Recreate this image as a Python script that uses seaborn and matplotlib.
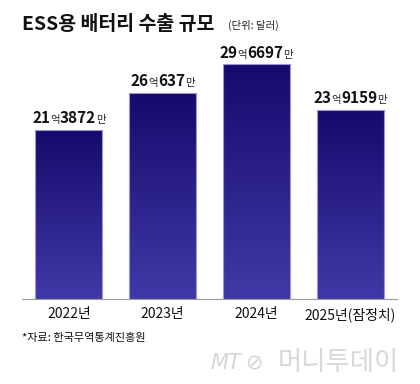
import numpy as np
import pandas as pd
import matplotlib
matplotlib.use("Agg")
import matplotlib.pyplot as plt
import seaborn as sns
from matplotlib.offsetbox import TextArea, HPacker, AnnotationBbox
from matplotlib.colors import LinearSegmentedColormap

# ---- data ----
categories = ["2022년", "2023년", "2024년", "2025년(잠정치)"]
values = [21.3872, 26.0637, 29.6697, 23.9159]   # 억 달러
label_eok = ["21", "26", "29", "23"]
label_man = ["3872", "637", "6697", "9159"]

title = "ESS용 배터리 수출 규모"
unit = "(단위: 달러)"
source = "*자료: 한국무역통계진흥원"

sns.set_theme(style="white")
FONT = ["Noto Sans CJK KR", "DejaVu Sans"]
plt.rcParams["font.family"] = FONT

fig = plt.figure(figsize=(4.2, 3.84), dpi=100)
W, H = 420, 384
ax = fig.add_axes([22 / W, 85 / H, 375 / W, 254 / H])

df = pd.DataFrame({"year": categories, "value": values})
sns.barplot(data=df, x="year", y="value", ax=ax, width=0.715,
            color="#2a2090", saturation=1, edgecolor="#9a96d6", linewidth=0.8)

ax.set_xlim(-0.5, 3.5)
ax.set_ylim(0, 254 / 7.92)

# gradient fill per bar
cmap = LinearSegmentedColormap.from_list("g", ["#4139a7", "#150a6c"])
grad = np.linspace(0, 1, 256).reshape(-1, 1)
for p in ax.patches:
    x0, y0 = p.get_x(), p.get_y()
    w, h = p.get_width(), p.get_height()
    im = ax.imshow(grad, cmap=cmap, aspect="auto", origin="lower",
                   extent=[x0, x0 + w, y0, y0 + h], zorder=p.get_zorder() + 0.1)
    im.set_clip_path(p)
    p.set_facecolor("none")
    p.set_zorder(p.get_zorder() + 0.2)
ax.set_xlim(-0.5, 3.5)
ax.set_ylim(0, 254 / 7.92)

# value labels
for i, v in enumerate(values):
    parts = [
        TextArea(label_eok[i], textprops=dict(fontsize=11, fontweight="bold", color="#111111", family=FONT)),
        TextArea("억", textprops=dict(fontsize=7.5, color="#222222", family=FONT)),
        TextArea(label_man[i], textprops=dict(fontsize=11, fontweight="bold", color="#111111", family=FONT)),
        TextArea("만", textprops=dict(fontsize=7.5, color="#222222", family=FONT)),
    ]
    pk = HPacker(children=parts, align="baseline", pad=0, sep=0)
    ab = AnnotationBbox(pk, (i, v), xybox=(0, 2.5), boxcoords="offset points",
                        box_alignment=(0.5, 0), frameon=False, pad=0)
    ax.add_artist(ab)

# axes styling
for s in ["left", "right", "top"]:
    ax.spines[s].set_visible(False)
ax.spines["bottom"].set_color("#9a9a9a")
ax.spines["bottom"].set_linewidth(0.8)
ax.set_yticks([])
ax.set_xlabel("")
ax.set_ylabel("")
ax.tick_params(axis="x", which="major", length=0, pad=6, labelsize=10, labelcolor="#111111")
ax.set_xticks([-0.5, 0.5, 1.5, 2.5, 3.5], minor=True)
ax.tick_params(axis="x", which="minor", direction="in", length=4, width=0.7, color="#9a9a9a")
ax.grid(False)

# title & notes
fig.text(22 / W, 1 - 24 / H, title, fontsize=14, fontweight="bold", color="#111111",
         va="center", ha="left")
fig.text(228 / W, 1 - 25 / H, unit, fontsize=7.5, color="#222222", va="center", ha="left")
fig.text(22 / W, 1 - 338 / H, source, fontsize=8, color="#111111", va="center", ha="left")

# watermark
fig.text(210 / W, 1 - 363 / H, "MT", fontsize=15, style="italic", color="#d4d4d4",
         va="center", ha="left", family=["DejaVu Sans"])
fig.text(245 / W, 1 - 363 / H, "⊘", fontsize=15, color="#d4d4d4", va="center", ha="left",
         family=["DejaVu Sans"])
fig.text(278 / W, 1 - 363 / H, "머니투데이", fontsize=19, color="#d8d8d8",
         va="center", ha="left")

fig.savefig("out.png", dpi=100)
